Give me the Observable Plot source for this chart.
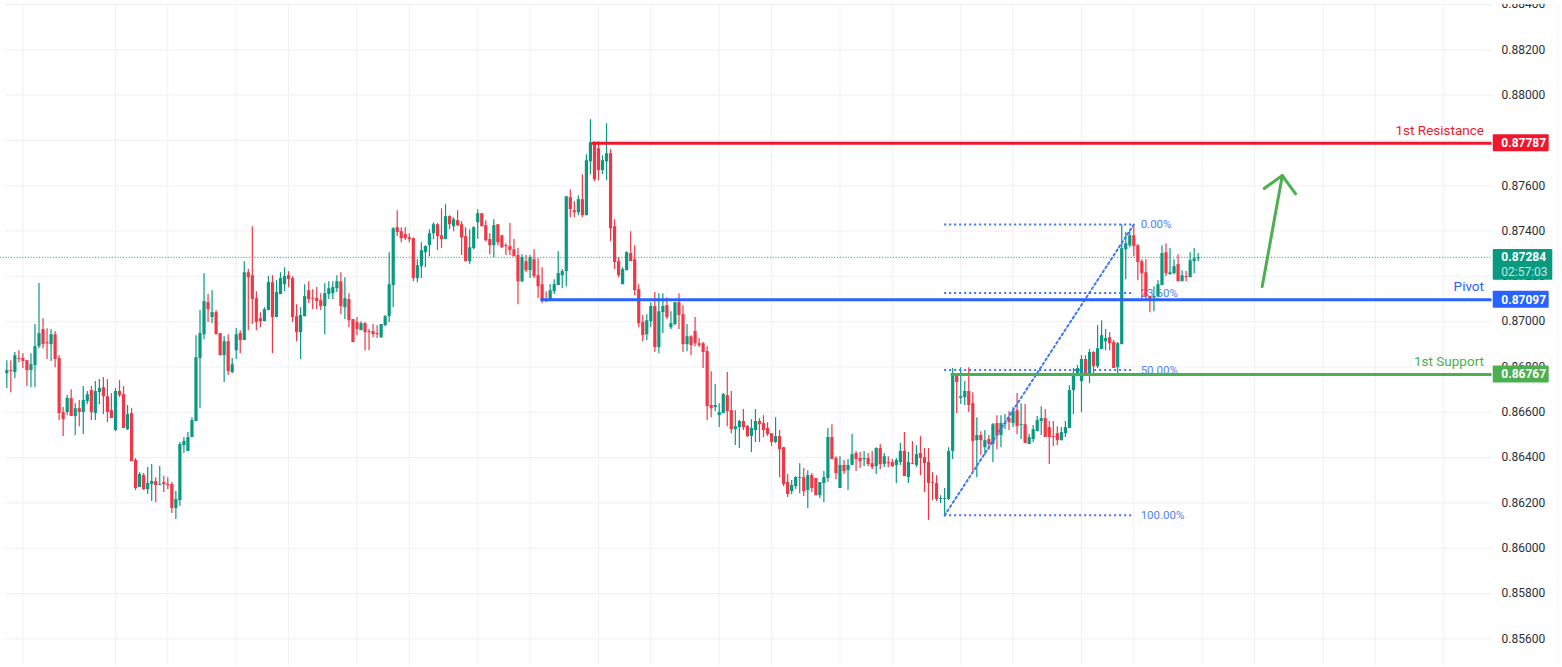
<!DOCTYPE html>
<html><head><meta charset="utf-8">
<script src="https://cdn.jsdelivr.net/npm/d3@7"></script>
<script src="https://cdn.jsdelivr.net/npm/@observablehq/plot@0.6"></script>
<style>html,body{margin:0;padding:0;background:#fff;overflow:hidden}svg{display:block}</style>
</head><body><div id="chart"></div>
<script>
// Candle readings in 1/100000 price units, one value per bar.
const highs=[86828,86828,86864,86872,86859,86828,86859,86988,87170,87014,
86970,86966,86957,86850,86620,86673,86699,86637,86651,86713,
86691,86713,86735,86744,86753,86744,86682,86704,86739,86713,
86629,86615,86394,86331,86327,86354,86367,86309,86358,86314,
86309,86287,86247,86465,86487,86509,86575,86939,87050,87214,
87121,87138,87050,86948,86934,86943,86837,86970,86961,87267,
87232,87422,87134,87041,87063,87201,87205,87183,87218,87240,
87223,87201,87076,87063,87165,87178,87143,87152,87125,87170,
87178,87178,87205,87218,87196,87125,87010,87019,87001,86997,
86966,86988,86983,86988,87028,87307,87418,87493,87418,87418,
87391,87373,87276,87351,87338,87409,87440,87436,87502,87520,
87471,87462,87493,87444,87418,87409,87422,87498,87480,87449,
87391,87453,87431,87382,87347,87436,87365,87325,87298,87294,
87294,87320,87280,87240,87134,87165,87187,87311,87232,87555,
87586,87533,87560,87653,87741,87897,87799,87799,87737,87879,
87764,87453,87285,87240,87311,87400,87338,87165,87028,87032,
87085,87130,87125,87125,87107,87045,87085,87125,87072,86988,
86939,87019,86926,86908,86890,86779,86722,86637,86682,86775,
86691,86606,86562,86611,86540,86566,86611,86571,86584,86553,
86504,86575,86518,86442,86323,86296,86314,86371,86349,86340,
86327,86305,86287,86336,86527,86544,86402,86402,86385,86389,
86500,86425,86420,86425,86416,86425,86442,86456,86416,86402,
86389,86394,86460,86509,86420,86469,86451,86491,86438,86438,
86331,86318,86229,86261,86442,86793,86770,86797,86735,86797,
86686,86575,86513,86518,86496,86549,86584,86584,86589,86602,
86620,86682,86637,86633,86500,86540,86580,86624,86611,86558,
86558,86535,86531,86558,86717,86793,86806,86850,86850,86877,
86868,86983,87005,86966,86952,86917,86908,87431,87396,87400,
87427,87342,87276,87276,87112,87156,87183,87338,87347,87325,
87276,87298,87227,87223,87307,87325,87303];
const bodyTops=[86784,86784,86850,86837,86837,86828,86810,86890,86948,86966,
86908,86943,86943,86837,86598,86660,86660,86615,86615,86651,
86677,86695,86691,86704,86708,86668,86606,86691,86691,86677,
86589,86593,86385,86323,86318,86283,86292,86292,86278,86287,
86278,86278,86212,86456,86469,86487,86562,86841,86948,87090,
87085,87041,87041,86948,86912,86912,86810,86943,86948,87218,
87218,87205,87103,87014,87054,87174,87174,87130,87192,87201,
87205,87192,87023,87028,87112,87138,87103,87103,87094,87125,
87147,87152,87178,87178,87103,87099,87010,86997,86992,86992,
86957,86957,86948,86988,87023,87165,87413,87418,87400,87387,
87373,87369,87249,87316,87334,87391,87431,87431,87382,87467,
87467,87453,87449,87431,87378,87329,87418,87480,87480,87427,
87365,87427,87431,87382,87338,87334,87320,87294,87285,87267,
87285,87276,87205,87165,87099,87138,87165,87214,87223,87555,
87551,87493,87542,87542,87715,87795,87795,87768,87715,87746,
87746,87422,87267,87232,87307,87303,87276,87143,86997,87005,
87068,87068,87045,87068,87072,86992,87085,87085,87032,86934,
86934,86957,86903,86903,86868,86629,86629,86598,86677,86673,
86606,86535,86558,86558,86535,86527,86558,86558,86549,86527,
86504,86491,86491,86442,86287,86274,86309,86309,86309,86318,
86318,86305,86287,86309,86487,86487,86394,86363,86363,86363,
86411,86416,86394,86394,86394,86371,86438,86438,86402,86376,
86376,86385,86425,86425,86376,86371,86411,86416,86398,86376,
86287,86283,86216,86216,86425,86770,86766,86668,86691,86691,
86637,86496,86496,86473,86478,86544,86549,86549,86549,86571,
86602,86606,86544,86544,86487,86522,86562,86571,86571,86531,
86491,86504,86509,86531,86695,86770,86793,86833,86833,86864,
86864,86881,86939,86926,86930,86908,86903,87325,87347,87382,
87382,87338,87267,87218,87112,87112,87165,87303,87307,87218,
87245,87254,87205,87201,87271,87280,87285];
const bodyBottoms=[86770,86779,86775,86833,86824,86784,86784,86806,86890,86899,
86903,86899,86833,86593,86566,86598,86580,86580,86598,86598,
86646,86598,86593,86686,86668,86598,86571,86518,86673,86527,
86522,86380,86261,86265,86256,86256,86278,86274,86274,86278,
86274,86172,86172,86207,86451,86425,86487,86558,86837,86943,
87054,87019,86943,86850,86850,86779,86775,86872,86917,86917,
87196,87099,86997,87001,87001,87050,87019,87019,87121,87165,
87187,87019,86952,86952,87023,87099,87099,87090,87068,87068,
87121,87125,87147,87068,87063,87005,86908,86966,86961,86952,
86952,86943,86943,86930,86983,87023,87161,87396,87369,87369,
87365,87192,87192,87245,87307,87338,87391,87378,87365,87365,
87431,87422,87427,87373,87267,87267,87325,87440,87422,87360,
87338,87338,87351,87329,87334,87316,87289,87178,87178,87227,
87227,87201,87156,87094,87094,87099,87134,87161,87205,87223,
87498,87484,87484,87471,87471,87710,87631,87671,87671,87710,
87413,87263,87205,87165,87227,87267,87138,86992,86939,86943,
87001,86886,86886,87041,87019,86974,86988,87028,86899,86899,
86895,86903,86895,86864,86624,86615,86620,86584,86593,86602,
86522,86522,86531,86531,86491,86491,86518,86544,86518,86500,
86465,86465,86433,86278,86234,86247,86269,86305,86247,86252,
86261,86229,86229,86283,86305,86389,86327,86261,86336,86340,
86363,86389,86380,86389,86367,86354,86358,86367,86367,86371,
86358,86363,86376,86314,86309,86367,86363,86394,86371,86283,
86283,86212,86212,86212,86212,86425,86731,86660,86664,86629,
86469,86473,86473,86442,86456,86456,86496,86496,86544,86553,
86549,86535,86540,86460,86456,86478,86513,86558,86487,86487,
86487,86473,86473,86504,86527,86695,86757,86735,86770,86770,
86801,86801,86877,86912,86903,86793,86797,86899,87320,87338,
87334,87263,87214,87112,87099,87106,87112,87161,87214,87209,
87214,87178,87178,87196,87196,87267,87280];
const lows=[86704,86686,86748,86819,86793,86713,86708,86708,86881,86881,
86833,86824,86797,86562,86491,86584,86580,86496,86535,86500,
86633,86562,86562,86633,86589,86553,86571,86513,86664,86527,
86518,86380,86252,86265,86252,86234,86203,86198,86274,86243,
86256,86150,86123,86181,86416,86425,86487,86558,86615,86921,
86997,86992,86943,86850,86731,86762,86770,86833,86859,86917,
86961,86988,86961,86974,87001,87050,86859,87019,87121,87134,
87152,86997,86912,86833,87023,87081,87054,87054,87050,86943,
87099,87099,87130,87032,87010,86974,86908,86939,86961,86872,
86872,86930,86926,86926,86979,86997,87063,87378,87351,87360,
87351,87178,87174,87192,87240,87289,87365,87316,87325,87365,
87409,87400,87422,87294,87267,87254,87320,87365,87422,87356,
87298,87285,87338,87325,87294,87294,87289,87076,87174,87218,
87192,87192,87103,87081,87085,87094,87121,87161,87147,87156,
87462,87462,87471,87462,87471,87653,87622,87626,87653,87626,
87356,87232,87196,87165,87227,87267,87116,86974,86912,86917,
86974,86864,86859,86948,87010,86966,86983,86966,86864,86868,
86850,86890,86886,86793,86562,86575,86602,86531,86593,86535,
86504,86451,86438,86518,86487,86420,86465,86465,86487,86491,
86447,86460,86309,86269,86221,86234,86256,86238,86225,86172,
86243,86229,86216,86198,86287,86389,86300,86261,86323,86252,
86363,86336,86349,86358,86358,86345,86323,86345,86354,86354,
86354,86283,86363,86314,86283,86367,86354,86318,86243,86119,
86207,86203,86194,86141,86207,86389,86593,86633,86629,86598,
86336,86309,86407,86407,86429,86376,86433,86442,86522,86518,
86531,86500,86478,86460,86456,86464,86513,86496,86487,86367,
86447,86451,86473,86487,86527,86589,86757,86598,86757,86726,
86757,86793,86877,86872,86872,86793,86762,86899,87187,87329,
87289,87183,87102,87094,87041,87045,87106,87161,87201,87209,
87209,87178,87178,87178,87196,87214,87267];
const directions=("GRGRRRGGGR"+"RGRRRGRGRG"+"GRGGRRRGRR"+"GRRGRGGRGR"+"RRGGGGGGGG"+"RGRRGRGGRG"+"RRRRGGRGGG"+"RRRGGRRRRG"+"GGGRGRRRGR"+"RRRGGGGRRR"+
"RRGGGGGRRG"+"RGRRRGGGRR"+"RGRRRRRRGR"+"GRRRRGGGGG"+"RRGRGGRRGG"+"RRRGGRRRRG"+"GRGGRGGRRG"+"RRRRRRGGGR"+"RGGRRGGRRR"+"RGRRRGGGRG"+
"RRGGGRRGRG"+"GRRGRRGRGR"+"RGGRGRGRRR"+"RRGGGGRGGR"+"RGRGRGRGGR"+"GRGRGGGGRR"+"RRGGGGGGRG"+"RGGGRRGGGG"+"RRRRRGGGRG"+"GRGRGGG");

const yTicks=[0.856,0.858,0.86,0.862,0.864,0.866,0.868,0.87,0.872,0.874,0.876,0.878,0.88,0.882,0.884];
const timeGrid=[4,27,40,57,70,87,100,117,130,147,160,177,190,207,220,237,250,267,280,297,310,327,340,357];

const levelNames=["1st Resistance","Pivot","1st Support"];
const levelPrices=[0.87787,0.87097,0.86767];
const levelStarts=[145.4,132.7,234.6];
const levelColors=["#f0172c","#2962ff","#4caf50"];
const levelEnd=369;

const lastPrice=0.87284, countdown="02:57:03";
const fibLabels=["0.00%","23.60%","50.00%","100.00%"];
const fibPrices=[0.87429,0.87126,0.86787,0.86145];
const fibStart=233, fibEnd=280;

const arrowStem=[[311.9,0.87155],[316.9,0.87645]];
const arrowHead=[[312.4,0.87588],[316.9,0.87645],[320.2,0.87564]];

const GREEN="#089981", RED="#f23645";
// readings were taken against a slightly compressed ruler; 0.995 restores them to the axis
const price=p=>(86800+(p-86800)*0.995)/1e5;
const candles=highs.map((h,i)=>({i,high:price(h),low:price(lows[i]),top:price(bodyTops[i]),bottom:price(bodyBottoms[i]),color:directions[i]==="G"?GREEN:RED}));
const levels=levelNames.map((name,k)=>({name,price:levelPrices[k],start:levelStarts[k],color:levelColors[k]}));
const fibs=fibLabels.map((label,k)=>({label,price:fibPrices[k]}));

const tagX1=369.3,tagX2=383.2,tagX3=384.1,tagText=371.3,tagHalf=0.000375;
const font="Roboto, sans-serif";

const chart=Plot.plot({
  width:1562,height:667,
  marginTop:4,marginBottom:2,marginLeft:5,marginRight:70,
  style:{fontFamily:font,background:"#fff",overflow:"hidden"},
  x:{type:"linear",domain:[0,296],range:[6.3,1197.7],axis:null},
  y:{type:"linear",domain:[0.856,0.884],range:[638.3,4],axis:null},
  marks:[
    Plot.ruleX(timeGrid,{stroke:"#f0f1f4",strokeWidth:1}),
    Plot.ruleX([385.4],{stroke:"#f2f3f5",strokeWidth:1}),
    Plot.gridY(yTicks,{stroke:"#f0f1f4",strokeOpacity:1,strokeWidth:1}),
    Plot.axisY(yTicks,{anchor:"right",tickSize:0,tickPadding:9,tickFormat:d3.format(".5f"),fontSize:12,fill:"#2a2e39",label:null}),
    Plot.rect([0],{x1:320,x2:390,y1:0.884,y2:0.8846,fill:"#fff"}),
    Plot.ruleY([lastPrice],{x1:-1.6,x2:levelEnd,stroke:GREEN,strokeWidth:1,strokeDasharray:"1 1.8"}),
    Plot.text(fibs,{x:281.7,y:"price",text:"label",textAnchor:"start",fontSize:11.5,fill:"#4f82f7"}),
    Plot.ruleX(candles,{x:"i",y1:"low",y2:"high",stroke:"color",strokeWidth:1.2}),
    Plot.ruleX(candles,{x:"i",y1:"bottom",y2:"top",stroke:"color",strokeWidth:3.2}),
    Plot.ruleY(fibs,{y:"price",x1:fibStart,x2:fibEnd,stroke:"#3f76ff",strokeWidth:2,strokeDasharray:"2 3"}),
    Plot.line([[fibStart,fibPrices[3]],[fibEnd,fibPrices[0]]],{x:"0",y:"1",stroke:"#3f76ff",strokeWidth:2,strokeDasharray:"2 3"}),
    Plot.ruleY(levels,{y:"price",x1:"start",x2:levelEnd,stroke:"color",strokeWidth:3}),
    Plot.text(levels,{x:367,y:"price",text:"name",textAnchor:"end",dy:-13,fontSize:13.5,fill:"color"}),
    Plot.line(arrowStem,{x:"0",y:"1",stroke:"#4caf50",strokeWidth:3,strokeLinecap:"round"}),
    Plot.line(arrowHead,{x:"0",y:"1",stroke:"#4caf50",strokeWidth:3,strokeLinecap:"round",strokeLinejoin:"round"}),
    Plot.rect(levels,{x1:tagX1,x2:tagX2,y1:d=>d.price-tagHalf,y2:d=>d.price+tagHalf,fill:"color",rx:1}),
    Plot.text(levels,{x:tagText,y:"price",text:d=>d.price.toFixed(5),textAnchor:"start",fontSize:12,fontWeight:700,fill:"#fff"}),
    Plot.rect([lastPrice],{x1:tagX1,x2:tagX3,y1:0.87183,y2:0.87318,fill:GREEN,rx:1}),
    Plot.text([lastPrice],{x:tagText,y:d=>d,text:d=>d.toFixed(5),textAnchor:"start",fontSize:12,fontWeight:700,fill:"#fff"}),
    Plot.text([countdown],{x:tagText,y:0.87219,text:d=>d,textAnchor:"start",fontSize:12,fill:"rgba(255,255,255,.78)"})
  ]
});
document.getElementById("chart").appendChild(chart);
</script></body></html>
